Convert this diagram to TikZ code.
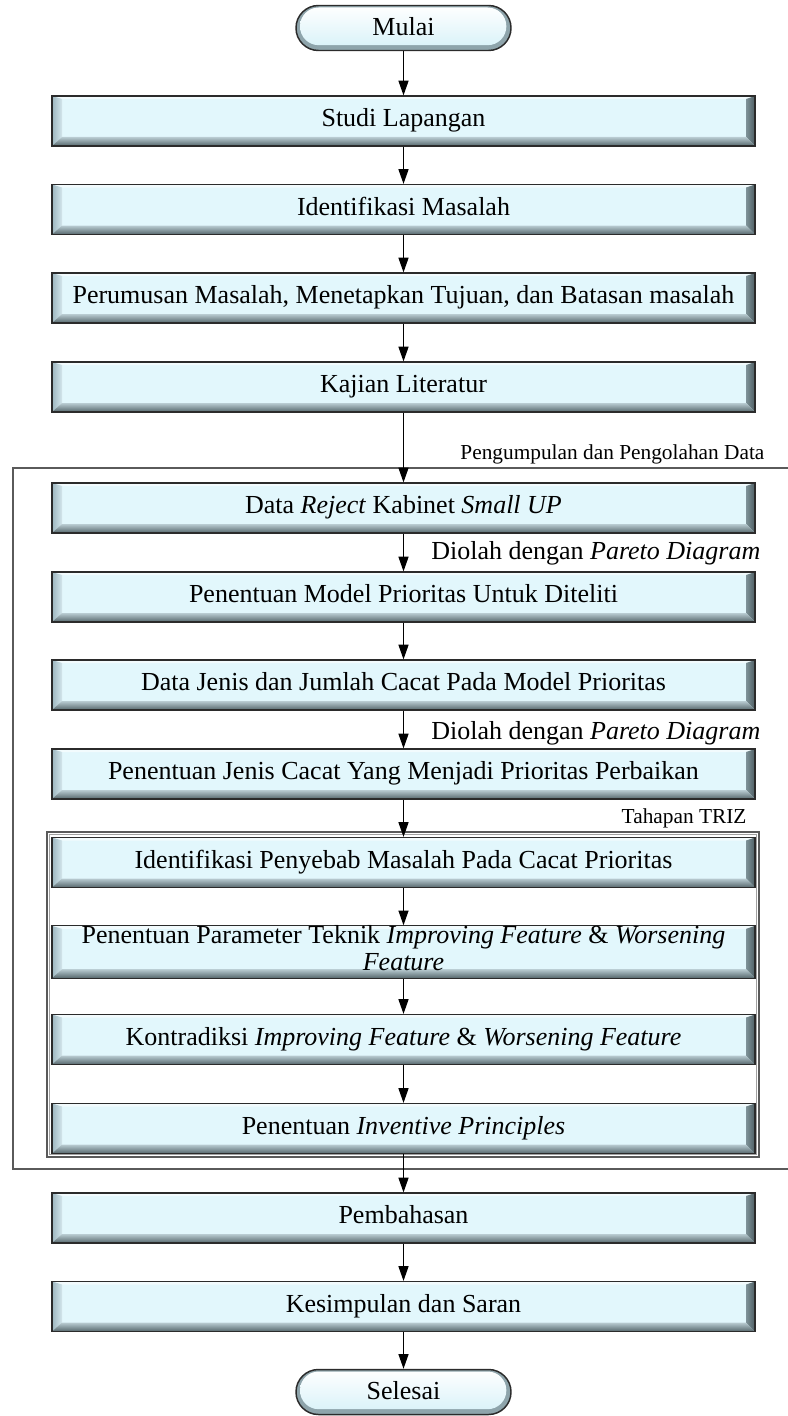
\documentclass[tikz,border=0pt]{standalone}
\usepackage{fontspec}
\setmainfont{Liberation Serif}
\usetikzlibrary{arrows.meta,calc}
\definecolor{boxline}{HTML}{2B2B2B}
\definecolor{facefill}{HTML}{E2F7FC}
\definecolor{frameline}{HTML}{5A5A5A}
\definecolor{frameinner}{HTML}{A0A0A0}
\definecolor{bevtop}{HTML}{F2FBFD}
\definecolor{bevleftA}{HTML}{9DB6BF}
\definecolor{bevleftB}{HTML}{D3E6EC}
\definecolor{bevrightA}{HTML}{7E9298}
\definecolor{bevrightB}{HTML}{4E5E63}
\definecolor{bevbotA}{HTML}{B9CCD2}
\definecolor{bevbotB}{HTML}{55666B}
\definecolor{termrim}{HTML}{8EA4AB}
\definecolor{termin}{HTML}{D6F1F8}
\tikzset{
  procbase/.style={rectangle, draw=boxline, line width=0.9pt, fill=facefill,
    minimum width=527.25pt, minimum height=37.5pt, inner sep=0pt,
    font=\fontsize{19.5}{19}\selectfont,
    path picture={
      \fill[bevtop] (path picture bounding box.north west) -- (path picture bounding box.north east)
        -- ([shift={(-6.75pt,-2.25pt)}]path picture bounding box.north east)
        -- ([shift={(7.5pt,-2.25pt)}]path picture bounding box.north west) -- cycle;
      \shade[left color=bevleftA, right color=bevleftB] (path picture bounding box.north west)
        -- ([shift={(7.5pt,-2.25pt)}]path picture bounding box.north west)
        -- ([shift={(7.5pt,6.75pt)}]path picture bounding box.south west)
        -- (path picture bounding box.south west) -- cycle;
      \shade[left color=bevrightA, right color=bevrightB] (path picture bounding box.north east)
        -- ([shift={(-6.75pt,-2.25pt)}]path picture bounding box.north east)
        -- ([shift={(-6.75pt,6.75pt)}]path picture bounding box.south east)
        -- (path picture bounding box.south east) -- cycle;
      \shade[top color=bevbotA, bottom color=bevbotB] (path picture bounding box.south west)
        -- ([shift={(7.5pt,6.75pt)}]path picture bounding box.south west)
        -- ([shift={(-6.75pt,6.75pt)}]path picture bounding box.south east)
        -- (path picture bounding box.south east) -- cycle;
    }},
  procbox/.style={procbase, text height=14.2pt, text depth=5.4pt},
  termbox/.style={rectangle, rounded corners=16.8pt, draw=boxline, line width=1.1pt, fill=termrim,
    minimum width=161.25pt, minimum height=33.75pt, inner sep=0pt,
    font=\fontsize{19.5}{19}\selectfont, text height=13.7pt, text depth=2.9pt,
    path picture={
      \shade[top color=white, bottom color=termin, rounded corners=14pt]
        ([shift={(3pt,-1.5pt)}]path picture bounding box.north west)
        rectangle ([shift={(-3.5pt,4pt)}]path picture bounding box.south east);
    }},
  arr/.style={-{Triangle[length=11pt,width=7.5pt]}, line width=0.9pt, black},
  framepath/.style={draw=frameline, line width=1.1pt},
  lbl/.style={inner sep=1pt, font=\fontsize{16}{17}\selectfont},
  dlbl/.style={inner sep=0pt, font=\fontsize{19.5}{19}\selectfont},
}
\begin{document}
\begin{tikzpicture}[x=0.75pt,y=-0.75pt]
\useasboundingbox (0,0) rectangle (788,1416);
\fill[white] (0,0) rectangle (788,1416);

% frames
\draw[framepath] (788,468) -| (13,1169) -- (788,1169);
\draw[framepath] (47,832) rectangle (759,1157);
\draw[draw=frameinner, line width=0.8pt] (49.5,834.5) rectangle (756.5,1154.5);

% labels
\node[lbl, anchor=south east] (pglbl) at (766,466) {Pengumpulan dan Pengolahan Data};
\node[lbl, anchor=south east] (trizlbl) at (748,830) {Tahapan TRIZ};
\node[dlbl, anchor=west] (d1) at (431,553) {Diolah dengan \textit{Pareto Diagram}};
\node[dlbl, anchor=west] (d2) at (431,733) {Diolah dengan \textit{Pareto Diagram}};

% nodes
\node[termbox] (mulai) at (403.5,28) {Mulai};
\node[procbox] (studi) at (403.5,121) {Studi Lapangan};
\node[procbox] (ident) at (403.5,209.5) {Identifikasi Masalah};
\node[procbox] (rumus) at (403.5,298) {Perumusan Masalah, Menetapkan Tujuan, dan Batasan masalah};
\node[procbox] (kajian) at (403.5,387) {Kajian Literatur};
\node[procbox] (reject) at (403.5,508) {Data \textit{Reject} Kabinet \textit{Small UP}};
\node[procbox] (model) at (403.5,597) {Penentuan Model Prioritas Untuk Diteliti};
\node[procbox] (jenis) at (403.5,685) {Data Jenis dan Jumlah Cacat Pada Model Prioritas};
\node[procbox] (cacat) at (403.5,774) {Penentuan Jenis Cacat Yang Menjadi Prioritas Perbaikan};
\node[procbox] (sebab) at (403.5,862.5) {Identifikasi Penyebab Masalah Pada Cacat Prioritas};
\node[procbase] (param) at (403.5,952)
  {\raisebox{2pt}{\begin{tabular}{@{}c@{}}Penentuan Parameter Teknik \textit{Improving Feature} \& \textit{Worsening}\\[1pt] \textit{Feature}\end{tabular}}};
\node[procbox] (kontra) at (403.5,1039.5) {Kontradiksi \textit{Improving Feature} \& \textit{Worsening Feature}};
\node[procbox] (invent) at (403.5,1128.5) {Penentuan \textit{Inventive Principles}};
\node[procbox] (bahas) at (403.5,1218) {Pembahasan};
\node[procbox] (simpul) at (403.5,1306.5) {Kesimpulan dan Saran};
\node[termbox] (selesai) at (403.5,1392) {Selesai};

% connectors
\draw[arr] (mulai) -- (studi);
\draw[arr] (studi) -- (ident);
\draw[arr] (ident) -- (rumus);
\draw[arr] (rumus) -- (kajian);
\draw[arr] (kajian) -- (reject);
\draw[arr] (reject) -- (model);
\draw[arr] (model) -- (jenis);
\draw[arr] (jenis) -- (cacat);
\draw[arr] (cacat) -- (sebab);
\draw[arr] (sebab) -- (param);
\draw[arr] (param) -- (kontra);
\draw[arr] (kontra) -- (invent);
\draw[arr] (invent) -- (bahas);
\draw[arr] (bahas) -- (simpul);
\draw[arr] (simpul) -- (selesai);
\end{tikzpicture}
\end{document}
